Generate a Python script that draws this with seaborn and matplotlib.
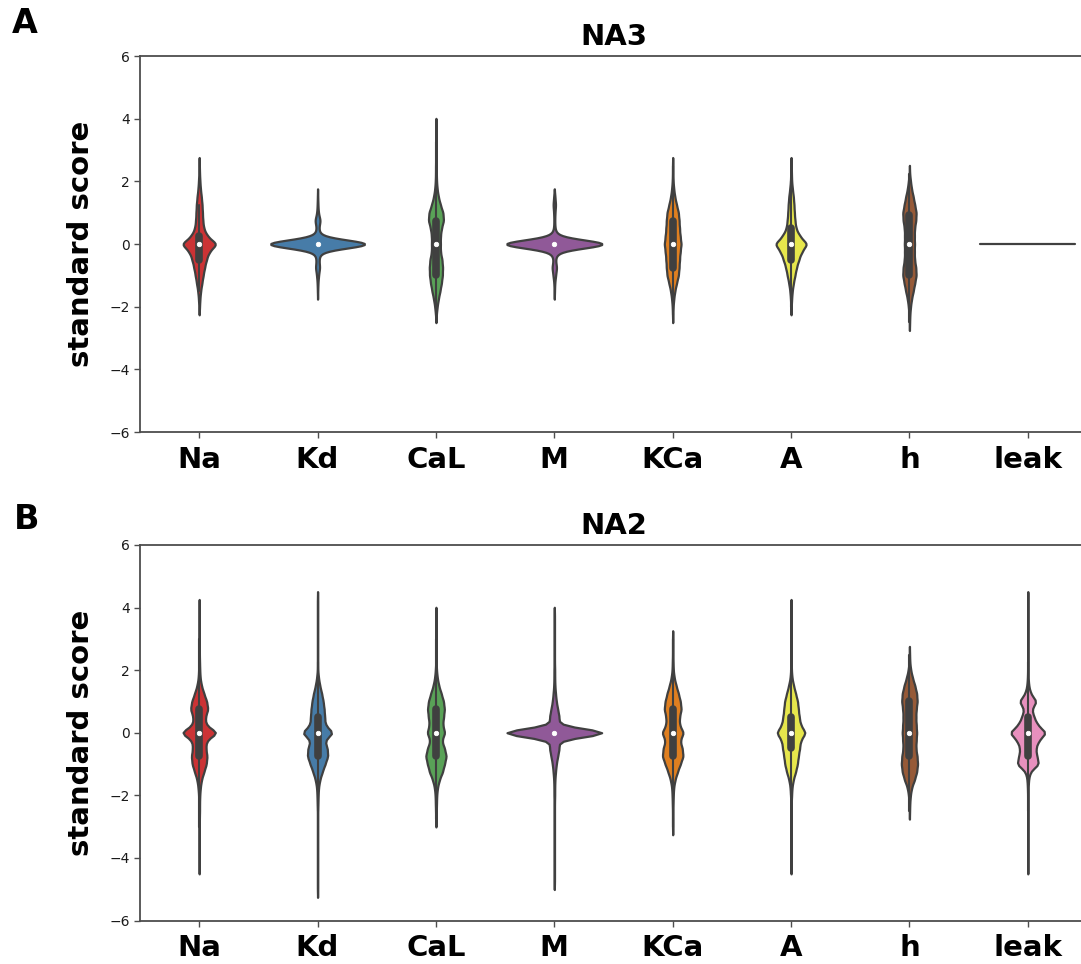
import numpy as np
import pandas as pd
import matplotlib
matplotlib.use("Agg")
import matplotlib.pyplot as plt
import seaborn as sns

channels = ["Na", "Kd", "CaL", "M", "KCa", "A", "h", "leak"]

# value grid and counts
grid_na3 = [-2.5, -2.25, -2.0, -1.75, -1.5, -1.25, -1.0, -0.75, -0.5, -0.25, 0.0, 0.25, 0.5,
            0.75, 1.0, 1.25, 1.5, 1.75, 2.0, 2.25, 2.5, 2.75, 3.0, 3.25, 3.5, 3.75]
na3_Na = [0, 0, 2, 4, 8, 15, 22, 30, 40, 55, 100, 45, 25, 20, 18, 16, 12, 7, 4, 2, 1, 0, 0, 0, 0, 0]
na3_Kd = [0, 0, 0, 0, 1, 2, 5, 11, 7, 15, 305, 15, 6, 14, 4, 2, 1, 0, 0, 0, 0, 0, 0, 0, 0, 0]
na3_CaL = [0, 2, 6, 12, 20, 27, 32, 33, 30, 22, 22, 22, 27, 38, 35, 22, 12, 6, 3, 2, 2, 1, 1, 1, 1, 1]
na3_M = [0, 0, 0, 0, 1, 2, 6, 11, 5, 15, 280, 15, 3, 2, 3, 6, 3, 0, 0, 0, 0, 0, 0, 0, 0, 0]
na3_KCa = [0, 1, 2, 5, 10, 18, 27, 30, 32, 35, 40, 35, 32, 30, 27, 18, 10, 5, 2, 1, 1, 0, 0, 0, 0, 0]
na3_A = [0, 0, 1, 3, 6, 12, 20, 28, 40, 55, 85, 45, 25, 20, 17, 15, 12, 7, 3, 2, 1, 0, 0, 0, 0, 0]
na3_h = [1, 2, 5, 10, 18, 25, 32, 30, 24, 23, 24, 23, 24, 30, 32, 25, 18, 10, 5, 1, 0, 0, 0, 0, 0, 0]
na3_leak = [0, 0, 0, 0, 0, 0, 0, 0, 0, 0, 50, 0, 0, 0, 0, 0, 0, 0, 0, 0, 0, 0, 0, 0, 0, 0]

# value grid and counts
grid_na2 = [-5.0, -4.75, -4.5, -4.25, -4.0, -3.75, -3.5, -3.25, -3.0, -2.75, -2.5, -2.25, -2.0,
            -1.75, -1.5, -1.25, -1.0, -0.75, -0.5, -0.25, 0.0, 0.25, 0.5, 0.75, 1.0, 1.25, 1.5,
            1.75, 2.0, 2.25, 2.5, 2.75, 3.0, 3.25, 3.5, 3.75, 4.0, 4.25]
na2_Na = [0, 0, 0, 1, 1, 1, 1, 1, 1, 1, 2, 2, 3, 6, 12, 25, 38, 42, 35, 38,
          100, 35, 32, 47, 40, 25, 12, 5, 3, 2, 1, 1, 1, 1, 1, 1, 1, 0]
na2_Kd = [1, 1, 1, 1, 1, 1, 1, 1, 1, 1, 1, 2, 3, 5, 12, 25, 40, 55, 52, 37,
          85, 40, 38, 35, 30, 22, 12, 5, 1, 1, 1, 1, 1, 1, 1, 1, 1, 1]
na2_CaL = [0, 0, 0, 0, 0, 0, 0, 0, 0, 1, 2, 3, 4, 8, 18, 35, 45, 55, 45, 30,
           48, 35, 40, 45, 40, 28, 15, 7, 3, 1, 1, 1, 1, 1, 1, 1, 0, 0]
na2_M = [0, 1, 1, 1, 1, 1, 1, 1, 1, 1, 1, 1, 2, 2, 3, 6, 10, 17, 25, 20,
         305, 20, 25, 17, 10, 6, 3, 2, 2, 1, 1, 1, 1, 1, 1, 1, 0, 0]
na2_KCa = [0, 0, 0, 0, 0, 0, 0, 0, 1, 1, 1, 2, 3, 5, 12, 25, 40, 55, 50, 38,
           58, 35, 35, 45, 40, 30, 18, 8, 3, 2, 1, 1, 1, 0, 0, 0, 0, 0]
na2_A = [0, 0, 0, 1, 1, 1, 1, 1, 1, 1, 1, 1, 3, 5, 12, 25, 35, 40, 47, 52,
         82, 52, 45, 40, 36, 25, 14, 5, 2, 1, 1, 1, 1, 1, 1, 1, 1, 0]
na2_h = [0, 0, 0, 0, 0, 0, 0, 0, 0, 0, 1, 2, 5, 12, 28, 40, 45, 42, 35, 37,
         40, 37, 35, 37, 43, 40, 30, 17, 7, 2, 1, 0, 0, 0, 0, 0, 0, 0]
na2_leak = [0, 0, 0, 1, 1, 1, 1, 1, 1, 1, 1, 1, 1, 2, 4, 12, 60, 48, 42, 58,
            100, 52, 33, 20, 48, 15, 5, 2, 1, 1, 1, 1, 1, 1, 1, 1, 1, 1]

counts_na3 = [na3_Na, na3_Kd, na3_CaL, na3_M, na3_KCa, na3_A, na3_h, na3_leak]
counts_na2 = [na2_Na, na2_Kd, na2_CaL, na2_M, na2_KCa, na2_A, na2_h, na2_leak]


def build_frame(grid, counts):
    rows = []
    for ch, cnt in zip(channels, counts):
        vals = np.repeat(np.asarray(grid, float), cnt)
        rows.append(pd.DataFrame({"channel": ch, "score": vals}))
    return pd.concat(rows, ignore_index=True)


BW = 0.13


def bw_fixed(kde):
    s = float(np.std(kde.dataset, ddof=1))
    return BW / s if s > 0 else 1.0


sns.set_style("ticks")
plt.rcParams["font.family"] = ["DejaVu Sans"]

fig = plt.figure(figsize=(10.81, 9.64), dpi=100)
W, H = 1081.0, 964.0
ax_a = fig.add_axes([140 / W, 1 - 432 / H, 947 / W, 376 / H])
ax_b = fig.add_axes([140 / W, 1 - 920.5 / H, 947 / W, 375.5 / H])

for ax, grid, counts, title in [(ax_a, grid_na3, counts_na3, "NA3"),
                                (ax_b, grid_na2, counts_na2, "NA2")]:
    df = build_frame(grid, counts)
    sns.violinplot(data=df, x="channel", y="score", hue="channel", order=channels,
                   hue_order=channels, palette="Set1", legend=False, inner="box",
                   bw_method=bw_fixed, cut=2, width=0.8, linewidth=1.6,
                   linecolor="0.25", density_norm="area", common_norm=True, ax=ax,
                   inner_kws=dict(box_width=5.5, whis_width=1.5, color="0.25", marker="o",
                                  markersize=3.2, markeredgewidth=0.6))
    ax.set_ylim(-6, 6)
    ax.set_xlim(-0.5, 7.5)
    ax.set_yticks([-6, -4, -2, 0, 2, 4, 6])
    ax.set_xlabel("")
    ax.set_ylabel("standard score", fontsize=21, fontweight="bold", labelpad=10,
                  color="black")
    ax.set_title(title, fontsize=21, fontweight="bold", pad=8, color="black")
    ax.tick_params(axis="x", labelsize=21, length=4, width=1, color="0.3", pad=6,
                   labelcolor="black")
    ax.tick_params(axis="y", labelsize=10, length=4, width=1, color="0.3",
                   labelcolor="0.1")
    for lab in ax.get_xticklabels():
        lab.set_fontweight("bold")
    for sp in ax.spines.values():
        sp.set_color("0.3")
        sp.set_linewidth(1.3)

fig.text(12 / W, 1 - 7 / H, "A", fontsize=24, fontweight="heavy", va="top", ha="left",
         color="black")
fig.text(14 / W, 1 - 503 / H, "B", fontsize=24, fontweight="heavy", va="top", ha="left",
         color="black")

fig.savefig("out.png", dpi=100)
